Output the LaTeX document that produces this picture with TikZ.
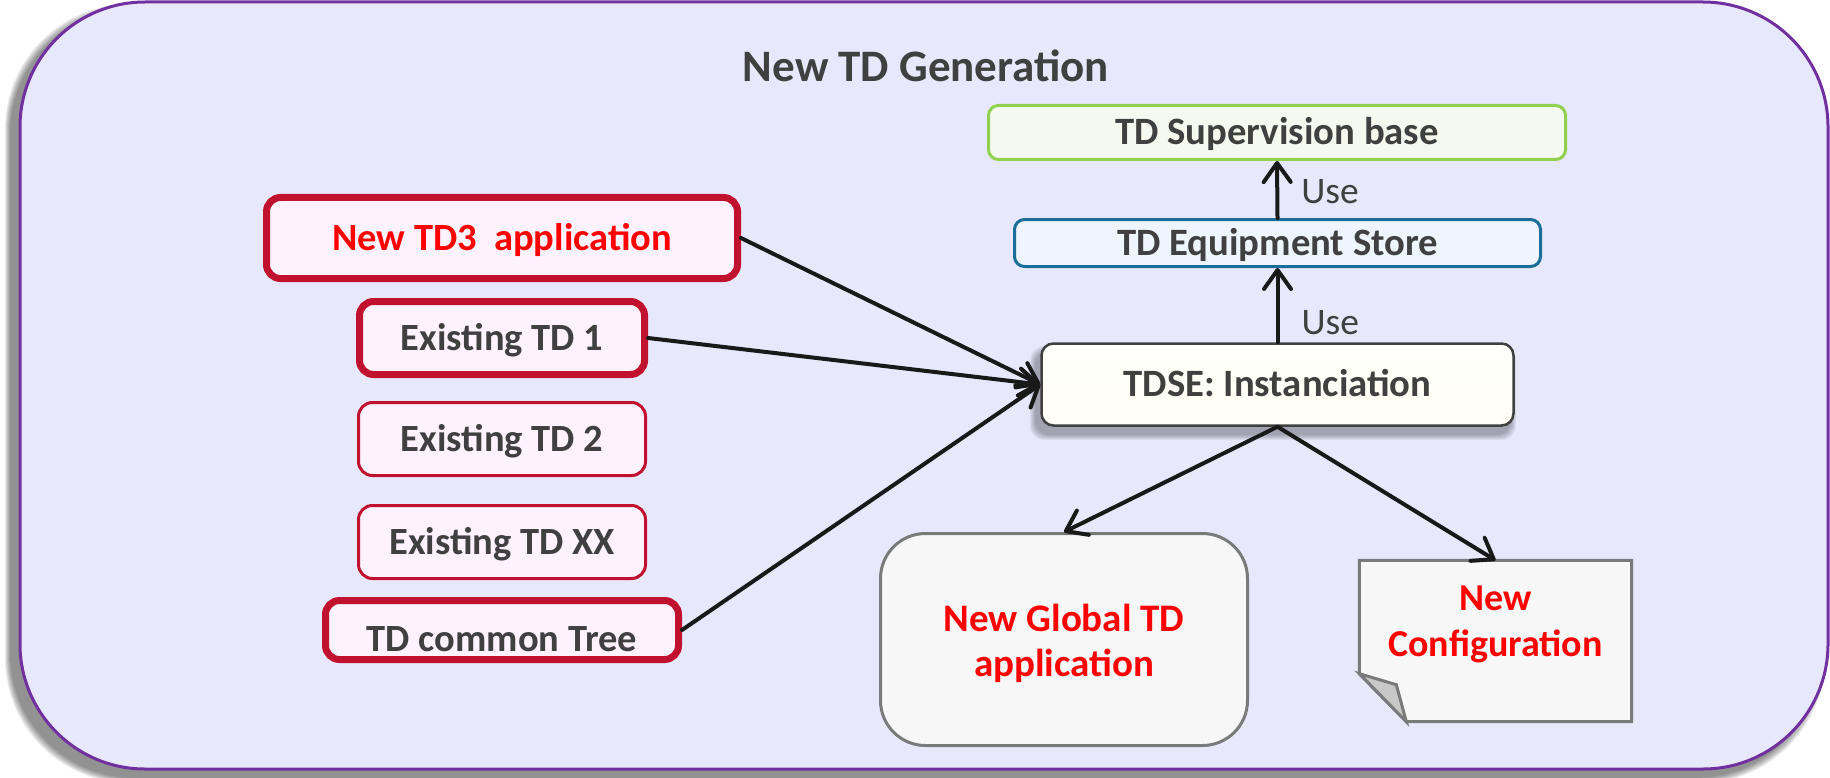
\documentclass[tikz,border=0pt]{standalone}
\usepackage{fontspec}
\setmainfont{Carlito}
\usetikzlibrary{arrows.meta}
\definecolor{outerfill}{HTML}{E8E8FC}
\definecolor{outerdraw}{HTML}{7030A0}
\definecolor{crimson}{HTML}{C0122E}
\definecolor{pinkfill}{HTML}{FDF2FD}
\definecolor{darktext}{HTML}{404040}
\definecolor{suppgreen}{HTML}{92D050}
\definecolor{suppfill}{HTML}{F5F9F0}
\definecolor{equipblue}{HTML}{1A6E98}
\definecolor{equipfill}{HTML}{EEF5FE}
\definecolor{notegray}{HTML}{7A7A7A}
\definecolor{notefill}{HTML}{F7F7F7}
\definecolor{foldfill}{HTML}{C8C8C8}
\definecolor{ivory}{HTML}{FFFFF4}
\pgfdeclareverticalshading{bevel}{100bp}{color(0bp)=(black!35); color(6bp)=(black!12); color(14bp)=(ivory); color(100bp)=(white)}
\pgfdeclarelayer{back}
\pgfdeclarelayer{mid}
\pgfsetlayers{back,mid,main}
\begin{document}
\begin{tikzpicture}[x=1pt,y=-1pt,
  frame/.style={draw=outerdraw, line width=3pt, fill=outerfill, rounded corners=125pt,
    inner sep=0pt, minimum width=1808pt, minimum height=767pt},
  softshadow/.style={fill=black, opacity=0.085},
  titletext/.style={text=darktext, font=\fontsize{45}{52}\selectfont\bfseries, inner sep=0pt},
  tdbox/.style={draw=crimson, fill=pinkfill, rounded corners=14pt, inner sep=0pt,
    text=darktext, font=\fontsize{38.5}{46}\selectfont\bfseries, text height=24pt, text depth=0pt},
  thickb/.style={line width=7pt},
  thinb/.style={line width=3pt},
  redtext/.style={text=red},
  supbox/.style={draw=suppgreen, fill=suppfill, line width=3pt, rounded corners=10pt, inner sep=0pt,
    text=darktext, font=\fontsize{38.7}{46}\selectfont\bfseries, text height=24pt, text depth=0pt},
  eqbox/.style={draw=equipblue, fill=equipfill, line width=3pt, rounded corners=10pt, inner sep=0pt,
    text=darktext, font=\fontsize{38.7}{46}\selectfont\bfseries, text height=24pt, text depth=0pt},
  tdsebox/.style={draw=black!75, line width=2.5pt, rounded corners=12pt, inner sep=0pt, shading=bevel,
    text=darktext, font=\fontsize{38.7}{46}\selectfont\bfseries, text height=24pt, text depth=0pt},
  globbox/.style={draw=notegray, fill=notefill, line width=3pt, rounded corners=45pt, inner sep=0pt,
    text=red, font=\fontsize{39}{45}\selectfont\bfseries},
  notebox/.style={inner sep=0pt, text=red, font=\fontsize{38}{46}\selectfont\bfseries},
  notepath/.style={draw=notegray, line width=3pt, line join=miter},
  conn/.style={draw=black!90, line width=4pt, line cap=round, -{Straight Barb[length=19pt,width=27pt,round]}},
  uselabel/.style={text=darktext, font=\fontsize{37.5}{42}\selectfont, inner sep=0pt, anchor=west}
]
\useasboundingbox (0,0) rectangle (1830,778);
\begin{pgfonlayer}{back}
\fill[white] (0,0) rectangle (1830,778);
% soft shadow of the frame
\foreach \e in {1,...,6}
  \fill[softshadow, rounded corners=125pt] ({11-\e},{10-\e}) rectangle ({1819+\e},{777+\e});
\node[frame] (frame) at (924,385.5) {};
\end{pgfonlayer}

\node[titletext] (title) at (926,66) {New TD Generation};

% left column
\node[tdbox, thickb, redtext, minimum width=471pt, minimum height=81pt] (td3) at (502,238) {New TD3\ \ application};
\node[tdbox, thickb, minimum width=285pt, minimum height=73pt] (ex1) at (502,338) {Existing TD 1};
\node[tdbox, thinb, minimum width=287pt, minimum height=73pt] (ex2) at (502,439) {Existing TD 2};
\node[tdbox, thinb, minimum width=287pt, minimum height=73pt] (exx) at (502,542) {Existing TD XX};
\node[tdbox, thickb, minimum width=353pt, minimum height=59pt] (tree) at (502,630) {\raisebox{-9pt}{TD common Tree}};

% right column
\node[supbox, minimum width=577pt, minimum height=54pt] (sup) at (1277,132.5) {TD Supervision base};
\node[eqbox, minimum width=526pt, minimum height=47pt] (equip) at (1277.5,243) {TD Equipment Store};
% soft shadow of the TDSE box
\foreach \e in {1,...,6}
  \fill[fill=black, opacity=0.055, rounded corners=14pt] ({1036-\e},{352-\e}) rectangle ({1510+\e},{434+\e});
\node[tdsebox, minimum width=472pt, minimum height=82pt] (tdse) at (1277.5,384.5) {TDSE: Instanciation};

\node[globbox, minimum width=367pt, minimum height=212pt] (glob) at (1064,639.5)
  {\raisebox{-12pt}[0pt][0pt]{\begin{tabular}{@{}c@{}}New Global TD\\application\end{tabular}}};

\node[notebox, minimum width=272pt, minimum height=161pt] (conf) at (1495.5,641)
  {\raisebox{10pt}[0pt][0pt]{\begin{tabular}{@{}c@{}}New\\Configuration\end{tabular}}};
\begin{pgfonlayer}{mid}
\path[notepath, fill=notefill] (conf.north west) -- (conf.north east) -- (conf.south east)
  -- ([xshift=47pt]conf.south west) -- ([yshift=48pt]conf.south west) -- cycle;
\path[notepath, fill=foldfill] ([yshift=48pt]conf.south west) -- ([xshift=37pt,yshift=37pt]conf.south west)
  -- ([xshift=47pt]conf.south west) -- cycle;
\end{pgfonlayer}

% connectors
\draw[conn] (td3.east) -- (tdse.west);
\draw[conn] (ex1.east) -- (tdse.west);
\draw[conn] (tree.east) -- (tdse.west);
\draw[conn] (tdse.north) -- node[uselabel, pos=0.26, xshift=22pt] {Use} (equip.south);
\draw[conn] (equip.north) -- node[uselabel, pos=0.46, xshift=22pt] {Use} (sup.south);
\draw[conn] (tdse.south) -- (glob.north);
\draw[conn] (tdse.south) -- (conf.north);
\end{tikzpicture}
\end{document}
